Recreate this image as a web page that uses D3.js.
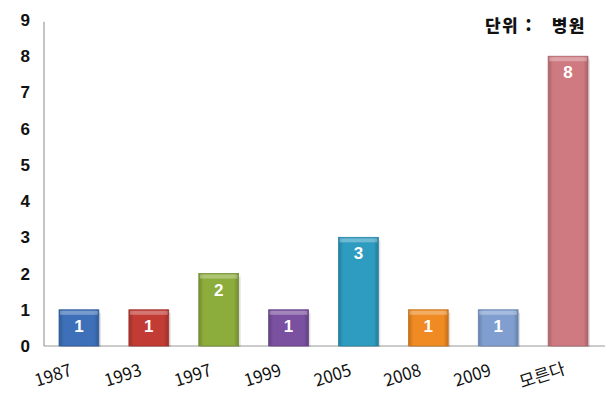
<!DOCTYPE html>
<html lang="ko">
<head>
  <meta charset="UTF-8">
  <title>bar chart</title>
  <script src="https://d3js.org/d3.v7.min.js"></script>
  <style>
    body { margin: 0; background: #fff; }
  </style>
</head>
<body>
<svg></svg>
<script>
  const categories = ['1987', '1993', '1997', '1999', '2005', '2008', '2009', '모른다']
  const values = [1, 1, 2, 1, 3, 1, 1, 8]
  const colors = ['#3d70b8', '#c23b34', '#8cac3c', '#7a51a1', '#2d9cc0', '#f08a22', '#809fd0', '#cf7a80']
  const yTicks = [0, 1, 2, 3, 4, 5, 6, 7, 8, 9]
  const unitLabel = '단위 :   병원'

  const width = 605, height = 397
  const margin = {top: 20, right: 2, bottom: 51, left: 44}

  const x = d3.scaleBand()
      .domain(categories)
      .range([margin.left, width - margin.right])
      .paddingInner(0.43)
      .paddingOuter(0.215)

  const y = d3.scaleLinear()
      .domain([0, 9])
      .range([height - margin.bottom, margin.top])

  const svg = d3.select('svg')
      .attr('width', width)
      .attr('height', height)
      .attr('viewBox', [0, 0, width, height])

  const defs = svg.append('defs')
  colors.forEach((c, i) => {
    const g = defs.append('linearGradient')
        .attr('id', 'grad' + i)
        .attr('x1', 0).attr('x2', 1).attr('y1', 0).attr('y2', 0)
    g.append('stop').attr('offset', '0%').attr('stop-color', d3.color(c).darker(0.6))
    g.append('stop').attr('offset', '12%').attr('stop-color', c)
    g.append('stop').attr('offset', '88%').attr('stop-color', c)
    g.append('stop').attr('offset', '100%').attr('stop-color', d3.color(c).darker(0.6))
  })

  // y axis
  svg.append('g')
      .attr('transform', `translate(${margin.left},0)`)
      .call(d3.axisLeft(y).tickValues(yTicks).tickSize(0).tickPadding(14))
      .call(g => g.select('.domain').attr('stroke', '#888').attr('d', `M0,${y(0)}V${y(8.95)}`))
      .call(g => g.selectAll('text')
          .attr('font-family', 'Liberation Sans, Arial, sans-serif')
          .attr('font-weight', 'bold')
          .attr('font-size', 17)
          .attr('fill', '#111'))

  // baseline
  svg.append('line')
      .attr('x1', margin.left).attr('x2', width)
      .attr('y1', y(0)).attr('y2', y(0))
      .attr('stroke', '#999')

  const bars = svg.append('g').selectAll('g')
      .data(categories)
      .join('g')

  bars.append('rect')
      .attr('x', d => x(d) + 2)
      .attr('y', (d, i) => y(values[i]) + 3)
      .attr('width', x.bandwidth())
      .attr('height', (d, i) => y(0) - y(values[i]) - 2)
      .attr('fill', '#000')
      .attr('opacity', 0.12)

  bars.append('rect')
      .attr('x', d => x(d))
      .attr('y', (d, i) => y(values[i]))
      .attr('width', x.bandwidth())
      .attr('height', (d, i) => y(0) - y(values[i]))
      .attr('fill', (d, i) => `url(#grad${i})`)
      .attr('stroke', (d, i) => d3.color(colors[i]).darker(0.5))
      .attr('stroke-width', 0.8)

  // top highlight
  bars.append('rect')
      .attr('x', d => x(d) + 1)
      .attr('y', (d, i) => y(values[i]) + 1)
      .attr('width', x.bandwidth() - 2)
      .attr('height', 4)
      .attr('fill', '#fff')
      .attr('opacity', 0.3)

  bars.append('text')
      .attr('x', d => x(d) + x.bandwidth() / 2)
      .attr('y', (d, i) => y(values[i]) + 22)
      .attr('text-anchor', 'middle')
      .attr('font-family', 'Liberation Sans, Arial, sans-serif')
      .attr('font-weight', 'bold')
      .attr('font-size', 17)
      .attr('fill', '#fff')
      .text((d, i) => values[i])

  // x labels
  svg.append('g').selectAll('text')
      .data(categories)
      .join('text')
      .attr('transform', d => `translate(${x(d) + x.bandwidth() / 2 - 24},${y(0) + 35}) rotate(-18)`)
      .attr('text-anchor', 'middle')
      .attr('font-family', 'Noto Sans CJK KR, Liberation Sans, sans-serif')
      .attr('font-size', 17)
      .attr('fill', '#111')
      .text(d => d)

  svg.append('text')
      .attr('x', 586)
      .attr('y', 32)
      .attr('text-anchor', 'end')
      .attr('font-family', 'Noto Sans CJK KR, sans-serif')
      .attr('font-weight', 900)
      .attr('font-size', 17)
      .attr('letter-spacing', 1.5)
      .attr('fill', '#111')
      .style('white-space', 'pre')
      .text(unitLabel)
</script>
</body>
</html>
